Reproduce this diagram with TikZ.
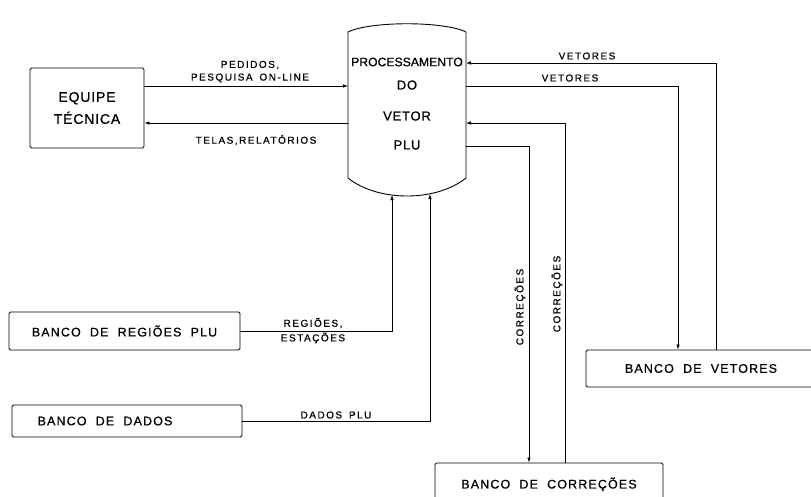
\documentclass[tikz,border=0pt]{standalone}
\usepackage{fontspec}
\setmainfont{Liberation Sans}
\newfontfamily\labfont[LetterSpace=15,WordSpace=1.6,FakeBold=0.7]{Liberation Sans}
\newfontfamily\boxfont[LetterSpace=9,WordSpace=2,FakeBold=0.7]{Liberation Sans}
\newfontfamily\procfont[LetterSpace=6,WordSpace=1.5,FakeBold=0.7]{Liberation Sans}
\newfontfamily\pbigfont[FakeBold=0.7]{Liberation Sans}
\usetikzlibrary{arrows.meta}
\begin{document}
\begin{tikzpicture}[x=1pt,y=-1pt,
  box/.style={draw, line width=0.9pt, rounded corners=1.5pt, inner sep=0pt,
    font=\boxfont\fontsize{12.5}{14}\selectfont},
  lab/.style={font=\labfont\fontsize{10}{11}\selectfont, inner sep=0pt},
  ptxt/.style={font=\procfont\fontsize{13}{15}\selectfont, inner sep=0pt},
  conn/.style={line width=0.8pt},
  arr/.style={conn, -{Latex[length=5pt,width=3.6pt]}},
  ]
\useasboundingbox (0,0) rectangle (811,496);
\clip (0,0) rectangle (811,496);

% process shape
\draw[line width=0.9pt] (348,32) .. controls (370,21) and (444,21) .. (466,32)
  -- (466,178) .. controls (436,202) and (378,202) .. (348,178) -- cycle;
\node[ptxt, font=\pbigfont\fontsize{12.2}{14}\selectfont] (p1) at (407,62) {PROCESSAMENTO};
\node[ptxt] (p2) at (407,85) {DO};
\node[ptxt] (p3) at (407,116) {VETOR};
\node[ptxt] (p4) at (407,145) {PLU};

% anchor points on the process outline
\coordinate (pA) at (348,86);
\coordinate (pB) at (348,123);
\coordinate (pC) at (466,63);
\coordinate (pD) at (466,86);
\coordinate (pE) at (466,123);
\coordinate (pF) at (466,146);
\coordinate (pG) at (392,195);
\coordinate (pH) at (430,194);
\coordinate (v1) at (716,63);
\coordinate (v2) at (678,86);
\coordinate (c1) at (565,123);
\coordinate (c2) at (529,146);

% boxes
\node[box, minimum width=114pt, minimum height=80pt, align=center,
  font=\procfont\fontsize{14}{22}\selectfont] (eq) at (87,108) {EQUIPE\\TÉCNICA};
\node[box, minimum width=231pt, minimum height=38pt] (reg) at (124.5,331) {BANCO DE REGIÕES PLU};
\node[box, minimum width=230pt, minimum height=32pt] (dad) at (127,421) {BANCO DE DADOS\hspace*{44pt}};
\node[box, minimum width=230pt, minimum height=37pt] (vet) at (701,368.5) {BANCO DE VETORES};
\node[box, minimum width=228pt, minimum height=45pt] (cor) at (549,485.5) {\raisebox{5pt}{BANCO DE CORREÇÕES}};

% connectors
\draw[arr] (eq.east |- pA) -- (pA);
\draw[arr] (pB) -- (eq.east |- pB);
\draw[arr] (vet.north -| v1) -- (v1) -- (pC);
\draw[arr] (pD) -- (v2) -- (vet.north -| v2);
\draw[arr] (cor.north -| c1) -- (c1) -- (pE);
\draw[arr] (pF) -- (c2) -- (cor.north -| c2);
\draw[arr] (reg.east) -| (pG);
\draw[arr] (dad.east) -| (pH);

% labels
\node[lab] (l1) at (250,65) {PEDIDOS,};
\node[lab] (l2) at (250,78) {PESQUISA ON-LINE};
\node[lab] (l3) at (256,140) {TELAS,RELATÓRIOS};
\node[lab] (l4) at (587,56) {VETORES};
\node[lab] (l5) at (570,78) {VETORES};
\node[lab, rotate=90] (l6) at (520,307) {CORREÇÕES};
\node[lab, rotate=90] (l7) at (557,294) {CORREÇÕES};
\node[lab] (l8) at (313,323) {REGIÕES,};
\node[lab] (l9) at (313,338) {ESTAÇÕES};
\node[lab] (l10) at (336,415) {DADOS PLU};
\end{tikzpicture}
\end{document}
